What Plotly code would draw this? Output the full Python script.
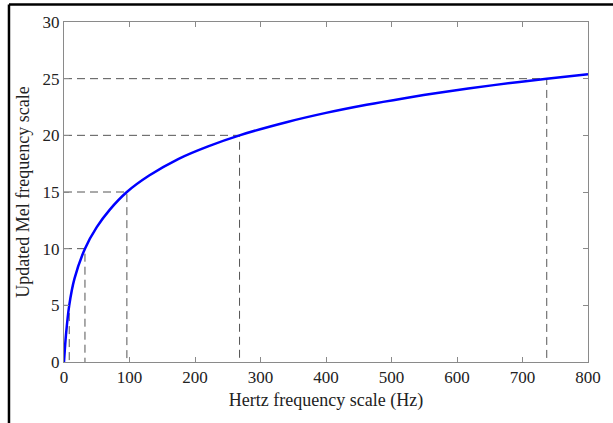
import plotly.graph_objects as go

# Curve: Hertz -> updated Mel scale
hz = [0, 3, 8, 16, 32, 50, 70, 96, 130, 175, 220, 268, 341, 400, 462, 520, 575, 656, 737, 800]
mel = [0, 2.4, 5, 7.35, 10, 11.9, 13.45, 15, 16.45, 17.93, 19.03, 20, 21.18, 21.98,
       22.7, 23.28, 23.78, 24.43, 25, 25.4]

# Reference levels marked with dashed guides
guide_mel = [5, 10, 15, 20, 25]
guide_hz = [8, 32, 96, 268, 737]

x_ticks = [0, 100, 200, 300, 400, 500, 600, 700, 800]
y_ticks = [0, 5, 10, 15, 20, 25, 30]

FONT = "Liberation Serif"
TEXT = "#222222"
GUIDE = "#555555"
AXIS = "#8a8a8a"

fig = go.Figure()

for gh, gm in zip(guide_hz, guide_mel):
    fig.add_trace(go.Scatter(
        x=[0, gh, gh], y=[gm, gm, 0], mode="lines",
        line=dict(color=GUIDE, width=1, dash="8px,5px"),
        hoverinfo="skip", showlegend=False,
    ))

fig.add_trace(go.Scatter(
    x=hz, y=mel, mode="lines",
    line=dict(color="#0000ff", width=2.5, shape="spline", smoothing=0.8),
    showlegend=False,
))

axis_common = dict(
    showgrid=False, zeroline=False, showline=True, linecolor=AXIS, linewidth=1,
    mirror="ticks", ticks="inside", ticklen=5, tickcolor=AXIS, tickwidth=1,
    tickfont=dict(family=FONT, size=17, color=TEXT),
)

fig.update_xaxes(
    range=[0, 800], tickvals=x_ticks,
    title=dict(text="Hertz frequency scale (Hz)", font=dict(family=FONT, size=18, color=TEXT), standoff=6),
    **axis_common,
)
fig.update_yaxes(
    range=[0, 30], tickvals=y_ticks,
    title=dict(text="Updated Mel frequency scale", font=dict(family=FONT, size=18, color=TEXT), standoff=8),
    **axis_common,
)

# Frame lines along the top and left of the figure
fig.add_shape(type="line", xref="paper", yref="paper", x0=-0.105, x1=1.06, y0=1.0515, y1=1.0515,
              line=dict(color="black", width=2.5))
fig.add_shape(type="line", xref="paper", yref="paper", x0=-0.105, x1=-0.105, y0=1.0515, y1=-0.2,
              line=dict(color="black", width=2.5))

fig.update_layout(
    width=613, height=423,
    margin=dict(l=64, r=19, t=22, b=61),
    paper_bgcolor="white", plot_bgcolor="white",
)

fig.write_html("out.html")
